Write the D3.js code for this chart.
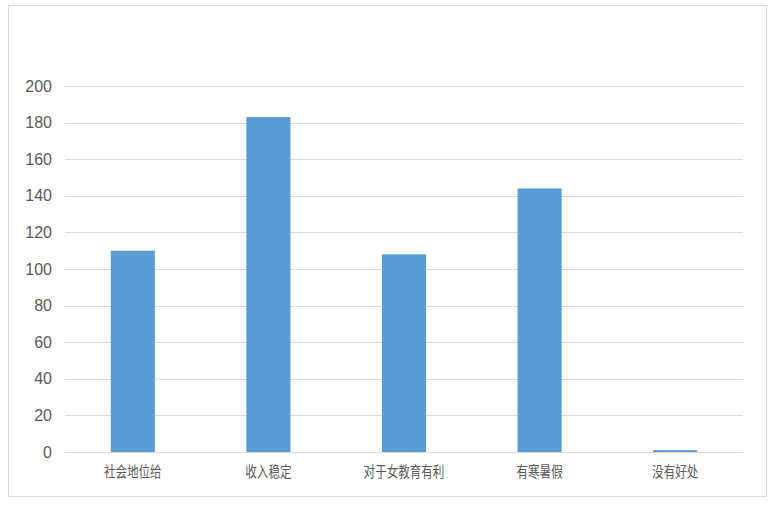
<!DOCTYPE html>
<html>
<head>
<meta charset="utf-8">
<script src="https://cdn.jsdelivr.net/npm/d3@7"></script>
<style>
  body { margin: 0; background: #fff; }
  svg { display: block; }
</style>
</head>
<body>
<svg id="chart" width="771" height="505"></svg>
<script>
// data
const categories = ["社会地位给", "收入稳定", "对于女教育有利", "有寒暑假", "没有好处"];
const counts = [110, 183, 108, 144, 1];
const yTicks = [0, 20, 40, 60, 80, 100, 120, 140, 160, 180, 200];

const width = 771, height = 505;
const margin = { top: 86, right: 28, bottom: 53, left: 65 };

const svg = d3.select("#chart");

// outer frame
svg.append("rect")
  .attr("x", 8.5).attr("y", 5.5)
  .attr("width", 758).attr("height", 491)
  .attr("fill", "#fff")
  .attr("stroke", "#d9d9d9");

const x = d3.scaleBand()
  .domain(categories)
  .range([margin.left, width - margin.right])
  .paddingInner(0.675)
  .paddingOuter(0.3375);

const y = d3.scaleLinear()
  .domain([0, 200])
  .range([height - margin.bottom, margin.top]);

// gridlines
svg.append("g")
  .attr("class", "grid")
  .selectAll("line")
  .data(yTicks)
  .enter().append("line")
  .attr("x1", margin.left)
  .attr("x2", width - margin.right)
  .attr("y1", d => Math.round(y(d)) + 0.5)
  .attr("y2", d => Math.round(y(d)) + 0.5)
  .attr("stroke", "#d9d9d9")
  .attr("stroke-width", 1);

// y axis labels
const yAxis = d3.axisLeft(y).tickValues(yTicks).tickSize(0).tickPadding(13);
svg.append("g")
  .attr("transform", `translate(${margin.left},0)`)
  .call(yAxis)
  .call(g => g.select(".domain").remove())
  .selectAll("text")
  .attr("fill", "#595959")
  .attr("font-family", "Liberation Sans, Arial, sans-serif")
  .attr("font-size", "16px");

// bars
svg.append("g")
  .selectAll("rect")
  .data(categories)
  .enter().append("rect")
  .attr("x", d => x(d))
  .attr("width", x.bandwidth())
  .attr("y", (d, i) => y(counts[i]))
  .attr("height", (d, i) => y(0) - y(counts[i]))
  .attr("fill", "#5b9bd5");

// x axis labels (glyphs are a bit narrow in the original)
const xAxis = d3.axisBottom(x).tickSize(0).tickPadding(14);
svg.append("g")
  .attr("transform", `translate(0,${y(0)})`)
  .call(xAxis)
  .call(g => g.select(".domain").remove())
  .selectAll("text")
  .attr("fill", "#595959")
  .attr("font-family", "Noto Sans CJK SC, sans-serif")
  .attr("font-size", "15px")
  .attr("transform", "scale(0.77,1)");
</script>
</body>
</html>
